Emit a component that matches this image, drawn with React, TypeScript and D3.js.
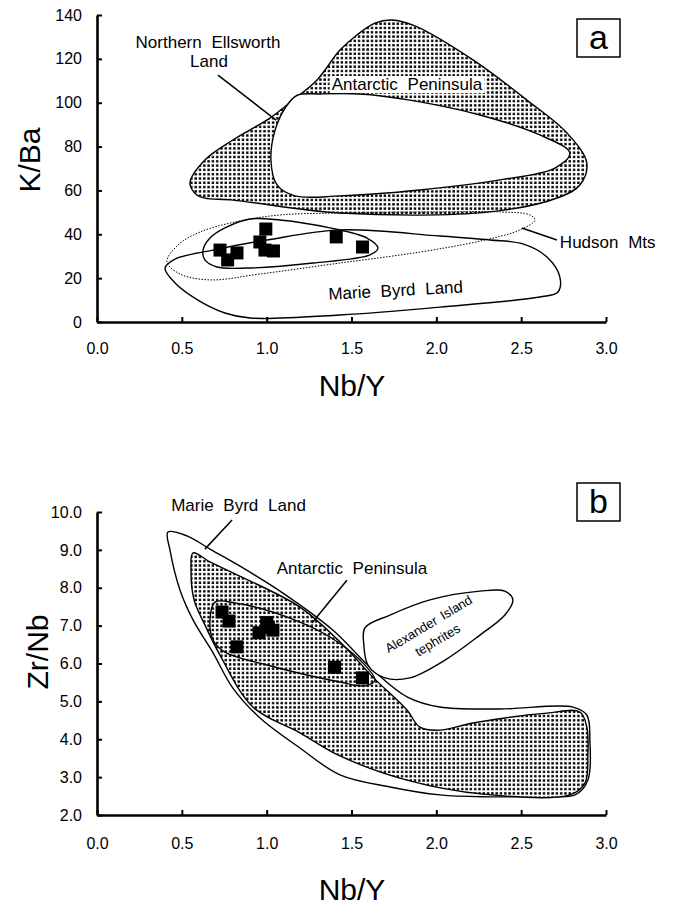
import React, { useRef, useEffect } from "react";
import * as d3 from "d3";

const W = 679;
const H = 906;
const FONT = "'Liberation Sans', Arial, Helvetica, sans-serif";

// ---- panel a : K/Ba vs Nb/Y ----
const nbYA = [0.725, 0.77, 0.825, 0.995, 0.96, 0.99, 1.04, 1.41, 1.565];
const kBa = [32.8, 28.3, 31.5, 42.4, 36.5, 32.8, 32.4, 38.8, 34.2];
const kBaTicks = [0, 20, 40, 60, 80, 100, 120, 140];

const antPenA = [
  [0.589, 57.9], [0.548, 63.4], [0.636, 73.9], [0.801, 83.0], [1.019, 93.0],
  [1.155, 101.2], [1.297, 110.4], [1.432, 124.0], [1.532, 130.9], [1.638, 136.3],
  [1.738, 137.7], [1.874, 135.0], [2.216, 119.5], [2.534, 101.2], [2.77, 86.2],
  [2.887, 72.5], [2.846, 62.5], [2.728, 57.0], [2.316, 50.2], [1.432, 49.7],
  [0.801, 55.6], [0.636, 56.5],
];
const ellsworthA = [
  [1.18, 103.4], [1.314, 104.0], [1.55, 104.0], [1.844, 101.2], [2.257, 94.4],
  [2.61, 85.3], [2.787, 77.1], [2.699, 70.2], [2.375, 64.8], [1.903, 60.2],
  [1.432, 57.5], [1.167, 57.5], [1.061, 62.5], [1.025, 73.9], [1.05, 87.6],
  [1.11, 97.7],
];
const hudsonA = [
  [0.412, 27.4], [0.477, 35.1], [0.607, 41.0], [0.813, 45.6], [1.078, 48.8],
  [1.432, 49.7], [2.021, 50.2], [2.375, 50.2], [2.552, 48.8], [2.581, 46.5],
  [2.493, 42.0], [2.257, 36.9], [1.903, 31.9], [1.432, 26.9], [0.961, 21.9],
  [0.666, 19.2], [0.489, 21.9],
];
const marieByrdA = [
  [0.401, 24.6], [0.46, 28.7], [0.684, 32.8], [1.002, 37.4], [1.432, 42.0],
  [2.021, 39.2], [2.316, 37.4], [2.51, 35.6], [2.652, 29.6], [2.728, 20.5],
  [2.717, 13.7], [2.61, 11.4], [2.021, 6.8], [1.432, 3.2], [0.902, 1.8],
  [0.754, 4.1], [0.595, 10.0], [0.46, 17.8],
];
const groupA = [
  [0.625, 32.8], [0.666, 38.3], [0.754, 42.9], [0.902, 47.0], [1.078, 46.5],
  [1.373, 42.9], [1.591, 38.3], [1.656, 33.7], [1.609, 30.6], [1.273, 26.9],
  [0.884, 24.6], [0.707, 25.1], [0.636, 28.3],
];

// ---- panel b : Zr/Nb vs Nb/Y ----
const nbYB = [0.737, 0.778, 0.825, 0.955, 1.0, 1.01, 1.037, 1.40, 1.565];
const zrNb = [7.36, 7.12, 6.44, 6.81, 7.08, 6.95, 6.88, 5.9, 5.62];
const zrNbTicks = [2, 3, 4, 5, 6, 7, 8, 9, 10];

const marieByrdB = [
  [0.418, 9.47], [0.53, 9.37], [0.666, 9.02], [0.843, 8.57], [1.096, 7.86],
  [1.391, 6.88], [1.626, 5.83], [1.827, 5.12], [2.021, 4.85], [2.375, 4.8],
  [2.805, 4.85], [2.887, 4.64], [2.905, 3.98], [2.893, 2.92], [2.817, 2.53],
  [2.61, 2.5], [2.275, 2.48], [2.021, 2.53], [1.727, 2.74], [1.432, 3.06],
  [1.196, 3.77], [0.961, 4.56], [0.801, 5.35], [0.684, 6.28], [0.566, 7.15],
  [0.489, 7.94], [0.43, 9.0],
];
const antPenB = [
  [0.566, 8.92], [0.666, 8.68], [0.801, 8.39], [1.196, 7.49], [1.45, 6.49],
  [1.626, 5.64], [1.827, 4.77], [1.903, 4.32], [2.021, 4.24], [2.216, 4.43],
  [2.652, 4.69], [2.846, 4.72], [2.887, 4.32], [2.893, 3.58], [2.876, 2.84],
  [2.787, 2.53], [2.275, 2.55], [1.827, 2.92], [1.432, 3.56], [1.196, 4.17],
  [0.919, 4.85], [0.725, 6.22], [0.636, 7.02], [0.572, 7.68], [0.554, 8.47],
];
const groupB = [
  [0.695, 7.62], [0.813, 7.6], [1.137, 7.2], [1.373, 6.7], [1.55, 6.09],
  [1.638, 5.56], [1.579, 5.41], [1.432, 5.51], [1.002, 5.96], [0.754, 6.3],
  [0.684, 6.62], [0.666, 7.15],
];
const alexanderB = [
  [1.579, 6.94], [1.727, 7.28], [1.962, 7.68], [2.257, 7.91], [2.404, 7.91],
  [2.451, 7.68], [2.404, 7.28], [2.257, 6.75], [2.051, 6.09], [1.844, 5.62],
  [1.697, 5.62], [1.597, 5.96], [1.573, 6.49],
];

const nbYTicks = [0, 0.5, 1, 1.5, 2, 2.5, 3];

const App = () => {
  const svgRef = useRef<SVGSVGElement>(null);

  useEffect(() => {
    const svg = d3.select(svgRef.current);
    svg.selectAll("*").remove();

    // dotted screen used for the Antarctic Peninsula fields
    const defs = svg.append("defs");
    const pat = defs
      .append("pattern")
      .attr("id", "stipple")
      .attr("patternUnits", "userSpaceOnUse")
      .attr("width", 4.3)
      .attr("height", 4.3);
    pat.append("rect").attr("width", 4.3).attr("height", 4.3).attr("fill", "#fff");
    pat.append("rect").attr("x", 1).attr("y", 1).attr("width", 2.4).attr("height", 2.4).attr("fill", "#000");

    const drawPanel = (cfg: any) => {
      const g = svg.append("g");
      const x = d3.scaleLinear().domain([0, 3]).range([97, 606]);
      const y = d3.scaleLinear().domain(cfg.yDomain).range(cfg.yRange);

      const shape = d3
        .line()
        .x((d: any) => x(d[0]))
        .y((d: any) => y(d[1]))
        .curve(d3.curveCatmullRomClosed.alpha(0.5));

      // fields
      cfg.fields.forEach((f: any) => {
        g.append("path")
          .attr("d", shape(f.pts))
          .attr("fill", f.fill)
          .attr("stroke", "#000")
          .attr("stroke-width", f.dash ? 1 : 1.4)
          .attr("stroke-dasharray", f.dash ? "1.5,1.5" : null);
      });

      // leader lines
      cfg.leaders.forEach((l: any) => {
        g.append("line")
          .attr("x1", x(l[0][0]))
          .attr("y1", y(l[0][1]))
          .attr("x2", x(l[1][0]))
          .attr("y2", y(l[1][1]))
          .attr("stroke", "#000")
          .attr("stroke-width", 1.5);
      });

      // labels
      cfg.labels.forEach((l: any) => {
        const t = g
          .append("text")
          .attr("transform", `translate(${x(l.x)},${y(l.y)}) rotate(${l.rotate || 0})`)
          .attr("text-anchor", l.anchor || "middle")
          .attr("font-family", FONT)
          .attr("font-size", l.size || 17)
          .attr("word-spacing", l.size ? 2 : 5)
          .text(l.text);
        if (l.bg) {
          const bb = (t.node() as SVGTextElement).getBBox();
          g.insert("rect", () => t.node())
            .attr("transform", `translate(${x(l.x)},${y(l.y)})`)
            .attr("x", bb.x - 2)
            .attr("y", bb.y + 1)
            .attr("width", bb.width + 4)
            .attr("height", bb.height - 2)
            .attr("fill", "#fff");
        }
      });

      // data points
      g.selectAll(".pt")
        .data(cfg.xs.map((v: number, i: number) => [v, cfg.ys[i]]))
        .join("rect")
        .attr("class", "pt")
        .attr("x", (d: any) => x(d[0]) - 6.5)
        .attr("y", (d: any) => y(d[1]) - 6.5)
        .attr("width", 13)
        .attr("height", 13)
        .attr("fill", "#000");

      // axes
      const axY = g
        .append("g")
        .attr("transform", `translate(97,0)`)
        .call(
          d3.axisLeft(y).tickValues(cfg.yTicks).tickFormat(cfg.yFormat).tickSizeInner(-5).tickSizeOuter(0).tickPadding(15)
        );
      const axX = g
        .append("g")
        .attr("transform", `translate(0,${cfg.yRange[0]})`)
        .call(
          d3.axisBottom(x).tickValues(nbYTicks).tickFormat(d3.format(".1f")).tickSizeInner(-5).tickSizeOuter(0).tickPadding(cfg.xPad)
        );
      [axY, axX].forEach((ax) => {
        ax.select(".domain").attr("stroke-width", 2.6);
        ax.selectAll(".tick line").attr("stroke-width", 2);
        ax.selectAll(".tick text").attr("font-family", FONT).attr("font-size", 16).attr("fill", "#000");
      });

      // axis titles
      g.append("text")
        .attr("transform", `translate(${cfg.yTitleX},${cfg.yTitleY}) rotate(-90)`)
        .attr("text-anchor", "middle")
        .attr("font-family", FONT)
        .attr("font-size", 30)
        .text(cfg.yTitle);
      g.append("text")
        .attr("x", 352)
        .attr("y", cfg.xTitleY)
        .attr("text-anchor", "middle")
        .attr("font-family", FONT)
        .attr("font-size", 30)
        .text("Nb/Y");

      // panel letter box
      g.append("rect")
        .attr("x", 577)
        .attr("y", cfg.boxY)
        .attr("width", 43)
        .attr("height", 38)
        .attr("fill", "#fff")
        .attr("stroke", "#000")
        .attr("stroke-width", 1.5);
      g.append("text")
        .attr("x", 598.5)
        .attr("y", cfg.boxY + 30)
        .attr("text-anchor", "middle")
        .attr("font-family", FONT)
        .attr("font-size", 34)
        .text(cfg.letter);
    };

    drawPanel({
      yDomain: [0, 140],
      yRange: [322, 15],
      yTicks: kBaTicks,
      yFormat: d3.format("d"),
      xPad: 21,
      xs: nbYA,
      ys: kBa,
      yTitle: "K/Ba",
      yTitleX: 40,
      yTitleY: 160,
      xTitleY: 396,
      boxY: 19,
      letter: "a",
      fields: [
        { pts: antPenA, fill: "url(#stipple)" },
        { pts: ellsworthA, fill: "#fff" },
        { pts: hudsonA, fill: "none", dash: true },
        { pts: marieByrdA, fill: "none" },
        { pts: groupA, fill: "none" },
      ],
      leaders: [
        [[0.713, 112.6], [1.055, 92.1]],
        [[2.504, 42.9], [2.711, 37.4]],
      ],
      labels: [
        { text: "Northern Ellsworth", x: 0.654, y: 125.1 },
        { text: "Land", x: 0.66, y: 116.3 },
        { text: "Antarctic Peninsula", x: 1.827, y: 105.8, bg: true },
        { text: "Hudson Mts", x: 2.728, y: 33.7, anchor: "start" },
        { text: "Marie Byrd Land", x: 1.762, y: 11.8, rotate: -3 },
      ],
    });

    drawPanel({
      yDomain: [2, 10],
      yRange: [815, 512],
      yTicks: zrNbTicks,
      yFormat: d3.format(".1f"),
      xPad: 23,
      xs: nbYB,
      ys: zrNb,
      yTitle: "Zr/Nb",
      yTitleX: 48,
      yTitleY: 652,
      xTitleY: 900,
      boxY: 483,
      letter: "b",
      fields: [
        { pts: marieByrdB, fill: "none" },
        { pts: antPenB, fill: "url(#stipple)" },
        { pts: groupB, fill: "none" },
        { pts: alexanderB, fill: "#fff" },
      ],
      leaders: [
        [[0.796, 9.79], [0.636, 9.02]],
        [[1.473, 8.2], [1.267, 7.07]],
      ],
      labels: [
        { text: "Marie Byrd Land", x: 0.834, y: 10.03 },
        { text: "Antarctic Peninsula", x: 1.503, y: 8.36 },
        { text: "Alexander Island", x: 1.968, y: 6.94, rotate: -31, size: 13 },
        { text: "tephrites", x: 2.021, y: 6.52, rotate: -31, size: 13 },
      ],
    });
  }, []);

  return (
    <svg
      ref={svgRef}
      width={W}
      height={H}
      style={{ position: "absolute", left: 0, top: 0, background: "#fff" }}
    />
  );
};

export default App;
